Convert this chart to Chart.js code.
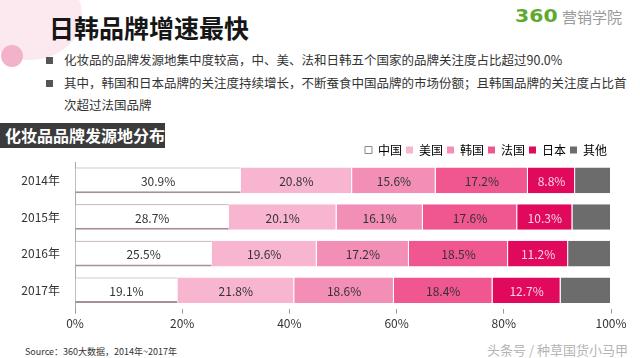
<!DOCTYPE html>
<html>
<head>
<meta charset="utf-8">
<script src="https://cdn.jsdelivr.net/npm/chart.js@4.4.1/dist/chart.umd.min.js"></script>
<style>
  html,body{margin:0;padding:0;background:#fff;}
  body{width:640px;height:358px;position:relative;overflow:hidden;font-family:"Noto Sans CJK SC","Noto Sans",sans-serif;color:#333;}
  .abs{position:absolute;white-space:nowrap;}
  #c1{left:-22px;top:-30px;width:104px;height:90px;border-radius:50%;background:#fbe4ec;opacity:.85;}
  #c2{left:1px;top:45px;width:22px;height:22px;border-radius:50%;background:#f2b3ca;}
  #title{left:49px;top:10px;font-size:25px;font-weight:bold;color:#161616;line-height:34px;}
  #logo360{left:515px;top:5px;font-size:17px;font-weight:bold;color:#5daa2e;line-height:22px;transform:scaleX(1.2);transform-origin:left center;font-family:"DejaVu Sans",sans-serif;}
  #logotxt{left:562px;top:6px;font-size:15px;color:#9a9a9a;line-height:22px;}
  .bul{font-size:12.5px;line-height:20px;color:#333;}
  .sq{position:absolute;width:7px;height:7px;background:#555;}
  #hdr{left:0;top:123px;width:165px;height:25px;background:#3b3b3b;color:#fff;font-weight:bold;font-size:16px;line-height:25px;padding-left:5px;box-sizing:border-box;}
  #src{left:25px;top:345px;font-size:9px;line-height:14px;color:#333;}
  #wm{left:487px;top:341px;font-size:13px;line-height:18px;color:#b5b5b5;}
  #wrap{position:absolute;left:0;top:134px;width:640px;height:200px;}
</style>
</head>
<body>
<div id="c1" class="abs"></div>
<div id="c2" class="abs"></div>
<div id="title" class="abs">日韩品牌增速最快</div>
<div id="logo360" class="abs">360</div>
<div id="logotxt" class="abs">营销学院</div>

<div class="sq" style="left:46px;top:57px;"></div>
<div class="abs bul" style="left:64px;top:50px;">化妆品的品牌发源地集中度较高，中、美、法和日韩五个国家的品牌关注度占比超过90.0%</div>
<div class="sq" style="left:46px;top:80px;"></div>
<div class="abs bul" style="left:64px;top:73px;">其中，韩国和日本品牌的关注度持续增长，不断蚕食中国品牌的市场份额；且韩国品牌的关注度占比首</div>
<div class="abs bul" style="left:64px;top:95px;">次超过法国品牌</div>

<div id="hdr" class="abs">化妆品品牌发源地分布</div>

<div id="wrap"><canvas id="chart"></canvas></div>

<div id="src" class="abs">Source：360大数据，2014年~2017年</div>
<div id="wm" class="abs">头条号 / 种草国货小马甲</div>

<script>
const categories = ["2014年", "2015年", "2016年", "2017年"];
const seriesNames = ["中国", "美国", "韩国", "法国", "日本", "其他"];
const china  = [30.9, 28.7, 25.5, 19.1];
const usa    = [20.8, 20.1, 19.6, 21.8];
const korea  = [15.6, 16.1, 17.2, 18.6];
const france = [17.2, 17.6, 18.5, 18.4];
const japan  = [8.8, 10.3, 11.2, 12.7];
const other  = [6.7, 7.2, 8.0, 9.4];
const xTicks = [0, 20, 40, 60, 80, 100];

const colors = ["#ffffff", "#f7b5d0", "#f38fb7", "#f0568f", "#e0095b", "#6d6c6d"];
const labelColors = ["#333", "#333", "#333", "#333", "#fbd3e3", null];
const seriesData = [china, usa, korea, france, japan, other];

const datasets = seriesData.map((d, i) => ({
  label: seriesNames[i],
  data: d,
  backgroundColor: colors[i],
  borderColor: i === 0 ? "#a88f9c" : "#ffffff",
  borderWidth: i === 0 ? {top: 1, bottom: 2, left: 0, right: 0} : {top: 0, bottom: 0, left: 0, right: 1},
  borderSkipped: false,
  barPercentage: 0.7,
  categoryPercentage: 1.0
}));

const valueLabels = {
  id: "valueLabels",
  afterDatasetsDraw(chart) {
    const ctx = chart.ctx;
    ctx.save();
    ctx.font = '12px "Noto Sans CJK SC", sans-serif';
    ctx.textAlign = "center";
    ctx.textBaseline = "middle";
    chart.data.datasets.forEach((ds, di) => {
      if (!labelColors[di]) return;
      const meta = chart.getDatasetMeta(di);
      meta.data.forEach((el, j) => {
        const p = el.getCenterPoint();
        ctx.fillStyle = labelColors[di];
        ctx.fillText(ds.data[j].toFixed(1) + "%", p.x, p.y + 1);
      });
    });
    ctx.restore();
  }
};

new Chart(document.getElementById("chart"), {
  type: "bar",
  data: { labels: categories, datasets },
  plugins: [valueLabels],
  options: {
    indexAxis: "y",
    responsive: true,
    maintainAspectRatio: false,
    animation: false,
    layout: { padding: { left: 0, right: 29, top: 6, bottom: 0 } },
    plugins: {
      tooltip: { enabled: false },
      legend: {
        position: "top",
        align: "end",
        maxHeight: 22,
        labels: {
          boxWidth: 7,
          boxHeight: 7,
          padding: 4,
          color: "#333",
          font: { size: 12, family: '"Noto Sans CJK SC", sans-serif' },
          generateLabels(chart) {
            return chart.data.datasets.map((ds, i) => ({
              text: ds.label,
              fillStyle: colors[i],
              strokeStyle: i === 0 ? "#888" : colors[i],
              lineWidth: i === 0 ? 1 : 0,
              datasetIndex: i,
              hidden: false
            }));
          }
        }
      }
    },
    scales: {
      x: {
        stacked: true,
        min: 0,
        max: 100,
        afterBuildTicks(scale) { scale.ticks = xTicks.map(v => ({ value: v })); },
        ticks: {
          callback: v => v + "%",
          color: "#333",
          font: { size: 12, family: '"Noto Sans CJK SC", sans-serif' },
          padding: 3,
          maxRotation: 0
        },
        grid: { display: true, drawOnChartArea: false, drawTicks: true, tickLength: 5, color: "#999" },
        border: { display: false }
      },
      y: {
        stacked: true,
        afterFit(scale) { scale.width = 75; },
        ticks: {
          color: "#333",
          font: { size: 12, family: '"Noto Sans CJK SC", sans-serif' },
          padding: 7
        },
        grid: { display: false },
        border: { display: true, color: "#aaa", width: 1 }
      }
    }
  }
});
</script>
</body>
</html>
